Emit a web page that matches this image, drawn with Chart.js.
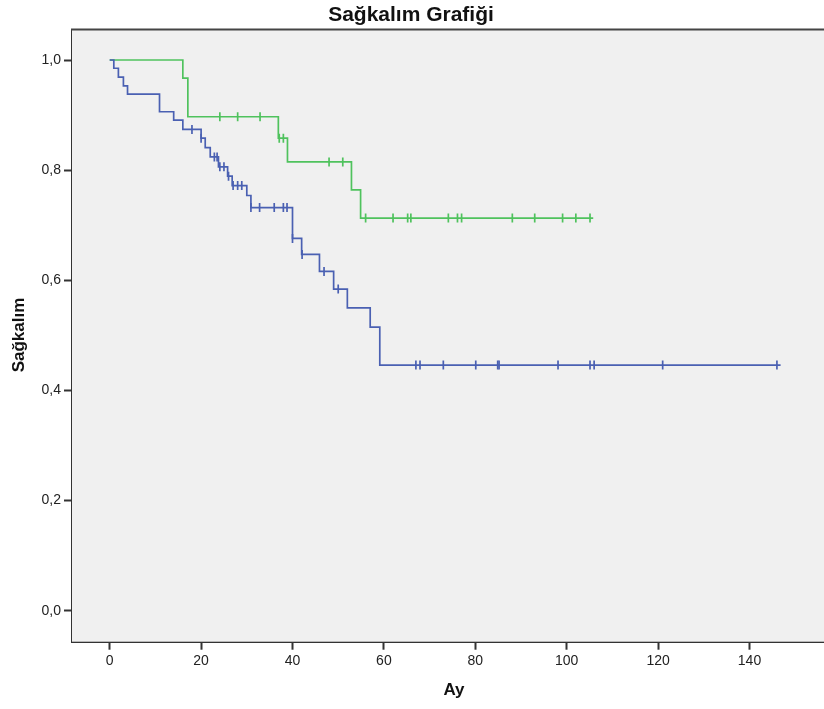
<!DOCTYPE html>
<html>
<head>
<meta charset="utf-8">
<script src="https://cdn.jsdelivr.net/npm/chart.js@4/dist/chart.umd.min.js"></script>
<style>
  html, body { margin: 0; padding: 0; background: #ffffff; overflow: hidden; }
  #wrap { width: 824px; height: 709px; position: relative; }
</style>
</head>
<body>
<div id="wrap"><canvas id="km" width="824" height="709"></canvas></div>
<script>
// Texts
const chartTitle = 'Sağkalım Grafiği';
const xAxisTitle = 'Ay';
const yAxisTitle = 'Sağkalım';

// Tick values
const xTickValues = [0, 20, 40, 60, 80, 100, 120, 140];
const yTickValues = [0, 0.2, 0.4, 0.6, 0.8, 1.0];

// Group 1 (blue): event times (months) and survival after each event
const blueEventTimes = [0.9, 1.9, 3.0, 3.9, 10.9, 14.0, 16.0, 20.0, 20.9, 22.0, 23.8, 25.8, 26.8, 30.0, 30.9, 40.0, 42.0, 45.9, 49.0, 52.0, 57.0, 59.1];
const blueSurvival   = [0.985, 0.969, 0.953, 0.938, 0.906, 0.891, 0.874, 0.858, 0.841, 0.824, 0.806, 0.789, 0.772, 0.754, 0.732, 0.676, 0.647, 0.616, 0.584, 0.550, 0.515, 0.446];
const blueCensored   = [18.0, 20.0, 22.9, 23.5, 24.1, 25.0, 26.0, 27.0, 28.0, 28.9, 30.9, 32.8, 36.0, 38.0, 38.8, 40.0, 42.1, 46.9, 50.0, 67.0, 67.9, 73.0, 80.1, 84.9, 85.2, 98.1, 105.1, 106.0, 121.0, 146.0];
const blueFollowUpEnd = 146.8;

// Group 2 (green)
const greenEventTimes = [16.0, 17.1, 36.9, 38.9, 52.9, 54.9];
const greenSurvival   = [0.967, 0.897, 0.858, 0.815, 0.764, 0.713];
const greenCensored   = [24.1, 28.0, 32.9, 37.1, 38.0, 48.0, 51.0, 56.0, 62.0, 65.2, 65.9, 74.1, 76.1, 77.0, 88.1, 93.0, 99.1, 102.0, 105.1];
const greenFollowUpEnd = 105.8;

const BLUE = '#4a60b2';
const GREEN = '#4fc25d';
const FONT = "'Liberation Sans', Arial, sans-serif";

// Step curve vertices: start at (0, 1), one vertex per event, then flat to end of follow-up
function stepPoints(times, surv, end) {
  const pts = [{ x: 0, y: 1 }];
  times.forEach((t, i) => pts.push({ x: t, y: surv[i] }));
  pts.push({ x: end, y: surv[surv.length - 1] });
  return pts;
}

// Survival level of the curve at time t
function survivalAt(t, times, surv) {
  let s = 1;
  for (let i = 0; i < times.length; i++) if (t >= times[i]) s = surv[i];
  return s;
}

function censorPoints(cens, times, surv) {
  return cens.map(t => ({ x: t, y: survivalAt(t, times, surv) }));
}

// Plot background and the top frame line
const frame = {
  id: 'frame',
  beforeDatasetsDraw(chart) {
    const { ctx, chartArea: a } = chart;
    ctx.save();
    ctx.fillStyle = '#f0f0f0';
    ctx.fillRect(a.left, a.top, a.right - a.left, a.bottom - a.top);
    ctx.restore();
  },
  afterDraw(chart) {
    const { ctx, chartArea: a } = chart;
    ctx.save();
    ctx.strokeStyle = '#444';
    ctx.lineWidth = 2;
    ctx.beginPath();
    ctx.moveTo(a.left - 1, a.top);
    ctx.lineTo(a.right, a.top);
    ctx.stroke();
    ctx.restore();
  }
};

// Chart and axis titles
const titles = {
  id: 'titles',
  afterDraw(chart) {
    const { ctx } = chart;
    ctx.save();
    ctx.fillStyle = '#111';
    ctx.textAlign = 'center';
    ctx.textBaseline = 'middle';
    ctx.font = 'bold 21px ' + FONT;
    ctx.fillText(chartTitle, 411, 15);
    ctx.font = 'bold 17px ' + FONT;
    ctx.fillText(xAxisTitle, 454, 690);
    ctx.translate(19, 335);
    ctx.rotate(-Math.PI / 2);
    ctx.fillText(yAxisTitle, 0, 0);
    ctx.restore();
  }
};

const tickFont = { family: FONT, size: 14 };

new Chart(document.getElementById('km'), {
  type: 'line',
  data: {
    datasets: [
      {
        data: stepPoints(blueEventTimes, blueSurvival, blueFollowUpEnd),
        stepped: true, borderColor: BLUE, borderWidth: 1.7, pointRadius: 0, fill: false
      },
      {
        data: censorPoints(blueCensored, blueEventTimes, blueSurvival),
        showLine: false, pointStyle: 'line', rotation: 90, pointRadius: 4.5,
        borderColor: BLUE, pointBorderColor: BLUE, pointBorderWidth: 1.7
      },
      {
        data: stepPoints(greenEventTimes, greenSurvival, greenFollowUpEnd),
        stepped: true, borderColor: GREEN, borderWidth: 1.7, pointRadius: 0, fill: false
      },
      {
        data: censorPoints(greenCensored, greenEventTimes, greenSurvival),
        showLine: false, pointStyle: 'line', rotation: 90, pointRadius: 4.5,
        borderColor: GREEN, pointBorderColor: GREEN, pointBorderWidth: 1.7
      }
    ]
  },
  options: {
    responsive: false,
    animation: false,
    events: [],
    layout: { autoPadding: false, padding: { top: 29.5, left: 0, right: 0, bottom: 0 } },
    plugins: { legend: { display: false }, title: { display: false }, tooltip: { enabled: false } },
    scales: {
      x: {
        type: 'linear', min: -8.25, max: 156.3,
        afterBuildTicks: s => { s.ticks = xTickValues.map(v => ({ value: v })); },
        afterFit: s => { s.height = 67.3; },
        grid: { drawOnChartArea: false, drawTicks: true, tickLength: 8, tickColor: '#333', tickWidth: 2 },
        border: { display: true, color: '#333', width: 2 },
        ticks: { font: tickFont, color: '#222', padding: 3, autoSkip: false, maxRotation: 0, callback: v => String(v) }
      },
      y: {
        type: 'linear', min: -0.0563, max: 1.0554,
        afterBuildTicks: s => { s.ticks = yTickValues.map(v => ({ value: v })); },
        afterFit: s => { s.width = 72; },
        grid: { drawOnChartArea: false, drawTicks: true, tickLength: 8, tickColor: '#333', tickWidth: 2 },
        border: { display: true, color: '#333', width: 2 },
        ticks: { font: tickFont, color: '#222', padding: 3, autoSkip: false, callback: v => v.toFixed(1).replace('.', ',') }
      }
    }
  },
  plugins: [frame, titles]
});
</script>
</body>
</html>
